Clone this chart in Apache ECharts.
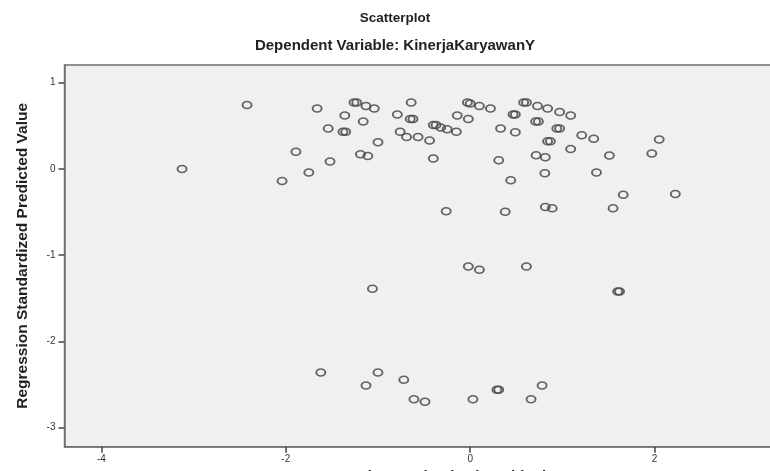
<!DOCTYPE html>
<html>
<head>
<meta charset="utf-8">
<script src="https://cdn.jsdelivr.net/npm/echarts@6/dist/echarts.min.js"></script>
<style>
html,body{margin:0;padding:0;background:#fff;}
#chart{width:770px;height:471px;}
</style>
</head>
<body>
<div id="chart"></div>
<script>
// Regression Studentized Residual (x) and Regression Standardized Predicted Value (y)
const residualX = [
  -3.125, -2.42, -2.04, -1.89, -1.75, -1.66, -1.54, -1.52, -1.36, -1.38, -1.35,
  -1.26, -1.23, -1.13, -1.04, -1.16, -1.19, -1.11, -1.00, -0.79, -0.64,
  -0.65, -0.62, -0.76, -0.69, -0.565, -0.44, -0.40, -0.37, -0.32, -0.25, -0.15,
  -0.40, -0.14, -0.02, -0.03, 0.00, 0.10, 0.22, 0.33, 0.49, 0.465, 0.49,
  0.58, 0.61, 0.73, 0.84, 0.97, 1.09, 0.71, 0.74, 0.94, 0.97, 0.84, 0.87,
  0.31, 0.44, 0.715, 0.815, 0.81, 1.21, 1.34, 1.09, 1.37, 1.51, 1.55, 1.66,
  1.97, 2.05, 2.225, -0.26, 0.38, 0.815, 0.89, -0.02, 0.10, 0.61, 1.60, 1.62,
  -1.06, -1.62, -1.00, -1.13, -0.72, -0.61, -0.49, 0.03, 0.29, 0.31, 0.66, 0.78
];
const predictedY = [
  0.00, 0.74, -0.14, 0.20, -0.04, 0.70, 0.47, 0.085, 0.62, 0.43, 0.43,
  0.77, 0.77, 0.73, 0.70, 0.55, 0.17, 0.15, 0.31, 0.63, 0.77,
  0.58, 0.58, 0.43, 0.37, 0.37, 0.33, 0.51, 0.51, 0.48, 0.46, 0.43,
  0.12, 0.62, 0.58, 0.77, 0.76, 0.73, 0.70, 0.47, 0.425, 0.63, 0.63,
  0.77, 0.77, 0.73, 0.70, 0.66, 0.62, 0.55, 0.55, 0.47, 0.47, 0.32, 0.32,
  0.10, -0.13, 0.16, 0.135, -0.05, 0.39, 0.35, 0.23, -0.04, 0.155, -0.455, -0.30,
  0.18, 0.34, -0.29, -0.49, -0.495, -0.44, -0.455, -1.13, -1.17, -1.13, -1.42, -1.42,
  -1.39, -2.36, -2.36, -2.51, -2.445, -2.67, -2.70, -2.67, -2.56, -2.56, -2.67, -2.51
];
const xTicks = [-4, -2, 0, 2];
const yTicks = [-3, -2, -1, 0, 1];

const points = residualX.map((x, i) => [x, predictedY[i]]);

const chart = echarts.init(document.getElementById('chart'), null, {renderer: 'canvas'});
const font = 'Liberation Sans, Arial, sans-serif';
chart.setOption({
  backgroundColor: '#ffffff',
  animation: false,
  title: [
    {text: 'Scatterplot', left: 390, top: 6, textAlign: 'center',
     textStyle: {fontFamily: font, fontSize: 13.5, fontWeight: 'bold', color: '#222'}},
    {text: 'Dependent Variable: KinerjaKaryawanY', left: 390, top: 33, textAlign: 'center',
     textStyle: {fontFamily: font, fontSize: 15, fontWeight: 'bold', color: '#222'}}
  ],
  grid: {
    left: 64.5, top: 65, width: 725.6, height: 381.7,
    outerBoundsMode: 'none', containLabel: false,
    show: true, backgroundColor: '#f0f0f0', borderColor: '#707070', borderWidth: 1.5
  },
  xAxis: {
    type: 'value', min: -4.40, max: 3.47,
    name: 'Regression Studentized Residual', nameLocation: 'middle', nameGap: 19,
    nameTextStyle: {fontFamily: font, fontSize: 15, fontWeight: 'bold', color: '#222'},
    axisLine: {show: true, onZero: false, lineStyle: {color: '#707070', width: 1.5}},
    splitLine: {show: false},
    axisTick: {show: true, inside: false, length: 6, customValues: xTicks,
               lineStyle: {color: '#444', width: 1.5}},
    axisLabel: {customValues: xTicks, margin: 8, fontFamily: font, fontSize: 10, color: '#333',
                formatter: v => String(v)}
  },
  yAxis: {
    type: 'value', min: -3.22, max: 1.205,
    name: 'Regression Standardized Predicted Value', nameLocation: 'middle', nameGap: 34, nameRotate: 90,
    nameTextStyle: {fontFamily: font, fontSize: 15.5, fontWeight: 'bold', color: '#222'},
    axisLine: {show: true, onZero: false, lineStyle: {color: '#707070', width: 1.5}},
    splitLine: {show: false},
    axisTick: {show: true, inside: false, length: 6, customValues: yTicks,
               lineStyle: {color: '#444', width: 1.5}},
    axisLabel: {customValues: yTicks, margin: 9, fontFamily: font, fontSize: 10, color: '#333',
                formatter: v => String(v)}
  },
  series: [{
    type: 'scatter',
    data: points,
    symbol: 'circle',
    symbolSize: [9, 7],
    itemStyle: {color: 'rgba(0,0,0,0)', borderColor: '#4a4a4a', borderWidth: 1.7, opacity: 0.85}
  }]
});
</script>
</body>
</html>
